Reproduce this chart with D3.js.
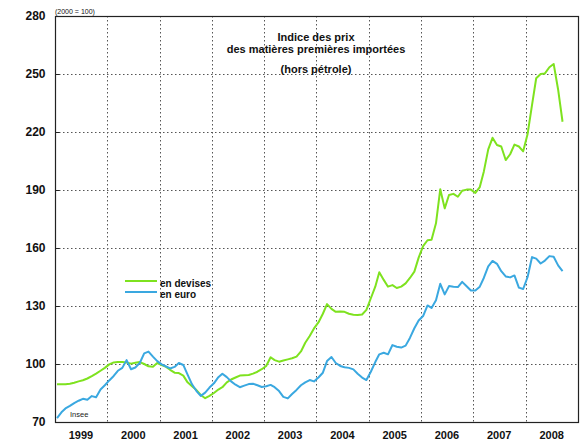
<!DOCTYPE html>
<html>
<head>
<meta charset="utf-8">
<script src="https://cdn.jsdelivr.net/npm/d3@7"></script>
<style>
  html, body { margin: 0; padding: 0; background: #fff; }
  svg { display: block; font-family: "Liberation Sans", Arial, sans-serif; }
</style>
</head>
<body>
<svg id="chart" width="585" height="445"></svg>
<script>
// ---- data (monthly index, 2000 = 100), starting January 1999 ----
const firstMonth = "1999-01";
const devises = [
  89.5, 89.5, 89.5, 89.8, 90.3, 91, 91.6, 92.5, 93.7, 95, 96.5, 98,
  99.8, 100.8, 101, 101, 100.8, 100.2, 100.6, 101, 100, 98.8, 98.6, 100.5,
  99.5, 98.5, 97, 95.5, 95.3, 94, 90.5, 88.5, 86.5, 84, 82.3, 83.5,
  85, 86.8, 88, 90.5, 92, 93, 94, 94.2, 94.3, 95, 96, 97.3,
  99, 103.5, 102, 101.2, 101.8, 102.4, 103, 103.8, 106.5, 111, 114.5, 118.4,
  121.5, 126, 131, 128.5, 127, 127.2, 127, 126, 125.5, 125.3, 125.6, 128,
  134, 140, 147.5, 143.5, 140, 140.8, 139.3, 140, 141.7, 144.5, 147.8, 155,
  161, 164, 164.3, 172.8, 190.4, 180.5, 187.4, 188, 186.5, 189.6, 190.2, 190.2,
  188.5, 191.5, 199.5, 211, 217, 213.3, 212.5, 205.5, 208.5, 213.5, 212.5, 210,
  219, 234, 247.8, 250, 250.3, 253.5, 255.2, 242, 225.3
];
const euro = [
  72, 75, 77, 78.3, 79.8, 81, 82, 81.5, 83.4, 82.8, 86.8, 89,
  91.5, 93.8, 96.5, 98, 102, 97.3, 98.2, 100.5, 105.5, 106.4, 103.8, 101.5,
  99.8, 98.7, 97.7, 98.5, 100.5, 99.5, 94.5, 89.5, 86, 83.5, 85.2, 87.8,
  90, 93.2, 95, 93.2, 91, 89.3, 88, 88.8, 89.6, 89.8, 89, 88.1,
  88.5, 89.2, 88, 86, 83, 82.2, 84.5, 86.6, 89, 90.5, 91.7, 91,
  93, 95.5, 101.5, 103.6, 100.5, 99, 98.3, 98, 97.2, 95, 93, 91.7,
  96, 101, 105, 105.8, 105, 109.8, 108.9, 108.5, 109.5, 113.5, 118.5, 122.5,
  124.8, 130.3, 129, 133, 141.5, 136, 140.3, 139.9, 139.8, 142.5, 140.2, 138,
  138, 140, 144.5, 150.5, 153.3, 151.8, 148, 145.3, 144.8, 145.8, 139.5, 138.8,
  145, 155.3, 154.5, 152, 153.5, 155.8, 155.5, 151, 148
];
const yearLabels = ["1999","2000","2001","2002","2003","2004","2005","2006","2007","2008"];
const yTicks = [70, 100, 130, 160, 190, 220, 250, 280];
const titleLines = ["Indice des prix", "des matières premières importées", "(hors pétrole)"];
const seriesNames = ["en devises", "en euro"];
const colors = ["#7ee21f", "#3aa8e0"];

// ---- layout ----
const svg = d3.select("#chart");
const mLeft = 55, mRight = 578, mTop = 16, mBottom = 422;

const parseMonth = d3.timeParse("%Y-%m");
const start = parseMonth(firstMonth);
const monthDate = i => d3.timeDay.offset(d3.timeMonth.offset(start, i), 14);

const x = d3.scaleTime()
  .domain([parseMonth("1999-01"), parseMonth("2009-01")])
  .range([mLeft, mRight]);
const y = d3.scaleLinear().domain([70, 280]).range([mBottom, mTop]);

const yearStarts = yearLabels.map(s => parseMonth(s + "-01"));

// gridlines
svg.append("g").selectAll("line")
  .data(yTicks.filter(v => v > 70 && v < 280))
  .join("line")
  .attr("x1", mLeft).attr("x2", mRight)
  .attr("y1", d => Math.round(y(d)) + 0.5).attr("y2", d => Math.round(y(d)) + 0.5)
  .attr("stroke", "#555").attr("stroke-width", 1)
  .attr("stroke-dasharray", "1.5,2.5");

svg.append("g").selectAll("line")
  .data(yearStarts.slice(1))
  .join("line")
  .attr("x1", d => Math.round(x(d)) + 0.5).attr("x2", d => Math.round(x(d)) + 0.5)
  .attr("y1", mTop).attr("y2", mBottom)
  .attr("stroke", "#555").attr("stroke-width", 1)
  .attr("stroke-dasharray", "1.5,2.5");

// frame
svg.append("rect")
  .attr("x", mLeft + 0.5).attr("y", mTop + 0.5)
  .attr("width", mRight - mLeft).attr("height", mBottom - mTop)
  .attr("fill", "none").attr("stroke", "#222").attr("stroke-width", 1.2);

// y axis
const yAxis = d3.axisLeft(y).tickValues(yTicks).tickSize(-4).tickPadding(10);
const gy = svg.append("g").attr("transform", `translate(${mLeft + 0.5},0)`).call(yAxis);
gy.select(".domain").remove();
gy.selectAll("line").attr("stroke", "#222");
gy.selectAll("text")
  .attr("font-size", 12).attr("font-weight", "bold")
  .attr("font-family", "'Liberation Sans', Arial, sans-serif")
  .attr("fill", "#111");

// x axis labels (centred in each year)
svg.append("g").selectAll("text")
  .data(yearLabels)
  .join("text")
  .attr("x", d => x(d3.timeMonth.offset(parseMonth(d + "-01"), 6)))
  .attr("y", 439)
  .attr("text-anchor", "middle")
  .attr("font-size", 11).attr("font-weight", "bold")
  .attr("fill", "#111")
  .text(d => d);

// lines
const line = d3.line()
  .x((d, i) => x(monthDate(i)))
  .y(d => y(d));

[devises, euro].forEach((s, k) => {
  svg.append("path")
    .datum(s)
    .attr("d", line)
    .attr("fill", "none")
    .attr("stroke", colors[k])
    .attr("stroke-width", 2)
    .attr("stroke-linejoin", "round");
});

// title
svg.append("g").selectAll("text")
  .data(titleLines)
  .join("text")
  .attr("x", 316)
  .attr("y", (d, i) => [41, 53, 73][i])
  .attr("text-anchor", "middle")
  .attr("font-size", 11).attr("font-weight", "bold")
  .attr("fill", "#111")
  .text(d => d);

// unit note and source
svg.append("text").attr("x", 55).attr("y", 14)
  .attr("font-size", 7).attr("fill", "#111").text("(2000 = 100)");
svg.append("text").attr("x", 70).attr("y", 417)
  .attr("font-size", 7.5).attr("fill", "#222").text("Insee");

// legend
const lg = svg.append("g");
seriesNames.forEach((name, k) => {
  const ly = 281 + k * 11;
  lg.append("line")
    .attr("x1", 125).attr("x2", 157)
    .attr("y1", ly).attr("y2", ly)
    .attr("stroke", colors[k]).attr("stroke-width", 2);
  lg.append("text")
    .attr("x", 160).attr("y", ly + 6)
    .attr("font-size", 10).attr("font-weight", "bold")
    .attr("fill", "#111")
    .text(name);
});
</script>
</body>
</html>
